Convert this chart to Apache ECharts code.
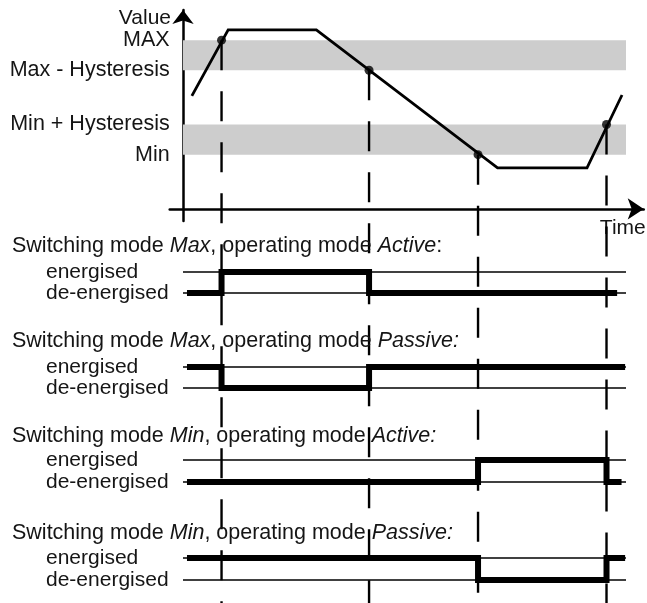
<!DOCTYPE html>
<html>
<head>
<meta charset="utf-8">
<script src="https://cdn.jsdelivr.net/npm/echarts@6/dist/echarts.min.js"></script>
<style>
html, body { margin: 0; padding: 0; background: #fff; }
#main { width: 647px; height: 603px; }
</style>
</head>
<body>
<div id="main"></div>
<script>
// measured value curve (time, value)
var curveTime = [2, 10.2, 30.1, 71, 91.2, 99.1];
var curveValue = [37.5, 59.4, 59.4, 13.6, 13.6, 37.8];

// threshold levels on the value axis
var levelValues = [56, 46, 28, 18];
var levelNames = ['MAX', 'Max - Hysteresis', 'Min + Hysteresis', 'Min'];

// switching instants and the level that is crossed there
var switchTime = [8.7, 42, 66.6, 95.6];
var switchLevel = [56, 46, 18, 28];

// relay states (0 = de-energised, 1 = energised), each state holds from its time on
var states = ['de-energised', 'energised'];
var maxActiveTime = [0.9, 8.7, 42, 98];
var maxActiveState = [0, 1, 0, 0];
var maxPassiveTime = [0.9, 8.7, 42, 99.8];
var maxPassiveState = [1, 0, 1, 1];
var minActiveTime = [0.9, 66.6, 95.6, 99];
var minActiveState = [0, 1, 0, 0];
var minPassiveTime = [0.9, 66.6, 95.6, 99.8];
var minPassiveState = [1, 0, 1, 1];

var panelTitles = [
  '{n|Switching mode }{i|Max}{n|, operating mode }{i|Active}{n|:}',
  '{n|Switching mode }{i|Max}{n|, operating mode }{i|Passive:}',
  '{n|Switching mode }{i|Min}{n|, operating mode }{i|Active:}',
  '{n|Switching mode }{i|Min}{n|, operating mode }{i|Passive:}'
];
var panelTimes = [maxActiveTime, maxPassiveTime, minActiveTime, minPassiveTime];
var panelStates = [maxActiveState, maxPassiveState, minActiveState, minPassiveState];

// ---- layout ----
var FONT = '"Liberation Sans", Arial, sans-serif';
var TXT = '#151515';
var t0px = 183, t100px = 626;
var pxT = (t100px - t0px) / 100;
var xMin = -3, xMax = 104;
var gLeft = t0px + xMin * pxT;
var gWidth = (xMax - xMin) * pxT;
var yMin = -4, yMax = 66;
var gTop = 10, gHeight = 211;
var pxV = gHeight / (yMax - yMin);
var overlayMin = yMax - (603 - gTop) / pxV;

var panelLineTop = [272, 367, 460, 558];
var panelLineBot = [293, 388, 482, 580];
var panelTitleY = [248, 343, 438, 535];

// hold each state until the next switching time
function stepData(times, vals) {
  var out = [];
  for (var i = 0; i < times.length; i++) {
    if (i > 0 && vals[i] !== vals[i - 1]) out.push([times[i], vals[i - 1]]);
    out.push([times[i], vals[i]]);
  }
  return out;
}

var myChart = echarts.init(document.getElementById('main'));

var grids = [
  { left: gLeft, width: gWidth, top: gTop, height: gHeight }
];
var xAxes = [
  {
    type: 'value', gridIndex: 0, min: xMin, max: xMax,
    name: 'Time', nameLocation: 'end', nameGap: 2,
    nameTextStyle: { align: 'right', verticalAlign: 'top', padding: [9, 0, 0, 0], fontSize: 21, fontFamily: FONT, color: TXT },
    axisLine: { onZero: true, symbol: ['none', 'arrow'], symbolSize: [16, 16], lineStyle: { color: '#000', width: 2.5 } },
    axisTick: { show: false }, axisLabel: { show: false }, splitLine: { show: false }
  }
];
var yAxes = [
  {
    type: 'value', gridIndex: 0, min: yMin, max: yMax,
    name: 'Value', nameLocation: 'end', nameGap: -8,
    nameTextStyle: { align: 'right', verticalAlign: 'middle', padding: [0, 12, 0, 0], fontSize: 21, fontFamily: FONT, color: TXT },
    axisLine: { onZero: true, symbol: ['none', 'arrow'], symbolSize: [16, 14], lineStyle: { color: '#000', width: 2.5 } },
    axisTick: { show: false },
    axisLabel: {
      customValues: levelValues, margin: 0, fontSize: 21.5, fontFamily: FONT, color: TXT,
      formatter: function (v) {
        var i = levelValues.indexOf(v);
        return i >= 0 ? levelNames[i] : '';
      }
    },
    splitLine: { show: false }
  }
];

var series = [
  {
    type: 'line', xAxisIndex: 0, yAxisIndex: 0, z: 1, silent: true,
    data: [], symbol: 'none',
    markArea: {
      silent: true,
      itemStyle: { color: '#cdcdcd' },
      data: [
        [{ xAxis: 0, yAxis: levelValues[1] }, { xAxis: 100, yAxis: levelValues[0] }],
        [{ xAxis: 0, yAxis: levelValues[3] }, { xAxis: 100, yAxis: levelValues[2] }]
      ]
    }
  },
  {
    type: 'line', xAxisIndex: 0, yAxisIndex: 0, z: 4,
    data: curveTime.map(function (t, i) { return [t, curveValue[i]]; }),
    symbol: 'none',
    lineStyle: { color: '#000', width: 2.8, join: 'miter' }
  },
  {
    type: 'scatter', xAxisIndex: 0, yAxisIndex: 0, z: 5,
    data: switchTime.map(function (t, i) { return [t, switchLevel[i]]; }),
    symbolSize: 9, itemStyle: { color: '#000' }
  }
];

var titles = [];
for (var p = 0; p < 4; p++) {
  var gi = p + 1;
  grids.push({ left: t0px, width: t100px - t0px, top: panelLineTop[p], height: panelLineBot[p] - panelLineTop[p] });
  xAxes.push({ type: 'value', gridIndex: gi, min: 0, max: 100, show: false });
  yAxes.push({
    type: 'value', gridIndex: gi, min: 0, max: 1, interval: 1,
    axisLine: { show: false }, axisTick: { show: false },
    axisLabel: {
      customValues: [0, 1], showMinLabel: true, showMaxLabel: true, hideOverlap: false,
      align: 'left', margin: t0px - 46, fontSize: 21, fontFamily: FONT, color: TXT,
      formatter: function (v) { return states[v]; }
    },
    splitLine: { show: true, lineStyle: { color: '#000', width: 1.5 } }
  });
  series.push({
    type: 'line', xAxisIndex: gi, yAxisIndex: gi, z: 6,
    symbol: 'none',
    data: stepData(panelTimes[p], panelStates[p]),
    lineStyle: { color: '#000', width: 6, join: 'miter', cap: 'butt' }
  });
  titles.push({
    text: panelTitles[p], left: 12, top: panelTitleY[p] - 13, padding: 0,
    textStyle: {
      rich: {
        n: { fontSize: 21.5, fontFamily: FONT, color: TXT, fontWeight: 'normal' },
        i: { fontSize: 21.5, fontFamily: FONT, color: TXT, fontWeight: 'normal', fontStyle: 'italic' }
      }
    }
  });
}

// overlay grid for the dashed switching markers running down the whole figure
grids.push({ left: gLeft, width: gWidth, top: gTop, height: 603 - gTop });
xAxes.push({ type: 'value', gridIndex: 5, min: xMin, max: xMax, show: false });
yAxes.push({ type: 'value', gridIndex: 5, min: overlayMin, max: yMax, show: false });
switchTime.forEach(function (t, i) {
  series.push({
    type: 'line', xAxisIndex: 5, yAxisIndex: 5, z: 2, silent: true,
    symbol: 'none',
    data: [[t, switchLevel[i]], [t, overlayMin]],
    lineStyle: { color: '#000', width: 2.4, type: [30, 21] }
  });
});

myChart.setOption({
  animation: false,
  backgroundColor: '#fff',
  title: titles,
  grid: grids,
  xAxis: xAxes,
  yAxis: yAxes,
  series: series
});
</script>
</body>
</html>
